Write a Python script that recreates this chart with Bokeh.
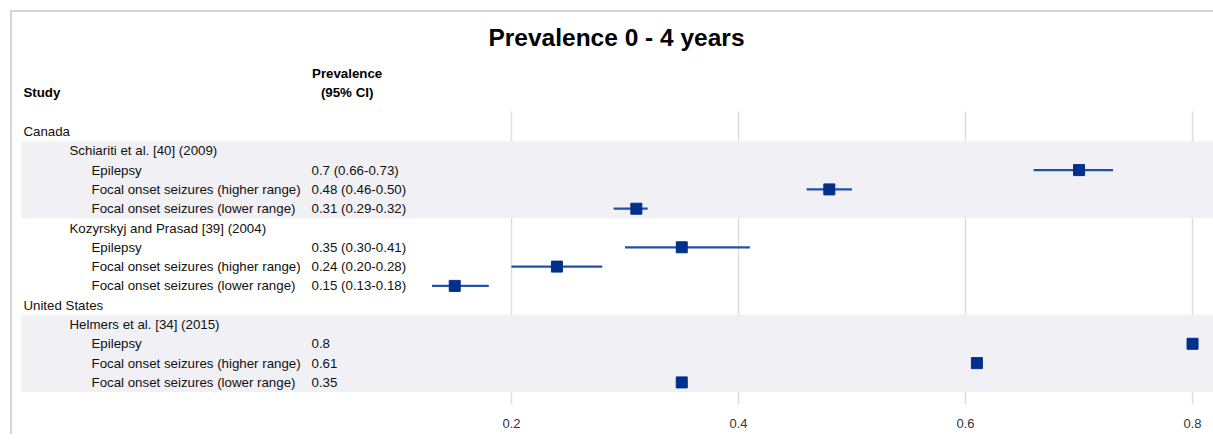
from bokeh.plotting import figure
from bokeh.models import Range1d, ColumnDataSource, FixedTicker
from bokeh.core.properties import value
from bokeh.embed import file_html
from bokeh.resources import INLINE

# ---------------- data ----------------
title_text = "Prevalence 0 - 4 years"
header_study = "Study"
header_prev = ["Prevalence", "(95% CI)"]

row_labels = [
    "Canada",
    "Schiariti et al. [40] (2009)",
    "Epilepsy",
    "Focal onset seizures (higher range)",
    "Focal onset seizures (lower range)",
    "Kozyrskyj and Prasad [39] (2004)",
    "Epilepsy",
    "Focal onset seizures (higher range)",
    "Focal onset seizures (lower range)",
    "United States",
    "Helmers et al. [34] (2015)",
    "Epilepsy",
    "Focal onset seizures (higher range)",
    "Focal onset seizures (lower range)",
]
row_levels = [0, 1, 2, 2, 2, 1, 2, 2, 2, 0, 1, 2, 2, 2]
estimates = [None, None, 0.70, 0.48, 0.31, None, 0.35, 0.24, 0.15, None, None, 0.80, 0.61, 0.35]
ci_lower = [None, None, 0.66, 0.46, 0.29, None, 0.30, 0.20, 0.13, None, None, None, None, None]
ci_upper = [None, None, 0.73, 0.50, 0.32, None, 0.41, 0.28, 0.18, None, None, None, None, None]
prev_text = ["", "", "0.7 (0.66-0.73)", "0.48 (0.46-0.50)", "0.31 (0.29-0.32)",
             "", "0.35 (0.30-0.41)", "0.24 (0.20-0.28)", "0.15 (0.13-0.18)",
             "", "", "0.8", "0.61", "0.35"]
shaded_first_rows = [1, 10]
shaded_row_count = [4, 4]
x_ticks = [0.2, 0.4, 0.6, 0.8]

# ---------------- layout constants ----------------
FONT = "Liberation Sans"
x_start, x_end = -0.2396, 0.8211
y_bottom, y_top = 14.145, -6.166
level_x = {0: -0.2300, 1: -0.1894, 2: -0.1700}
prev_x = 0.0238
band_left = -0.2317
grid_top = -1.04
title_x, title_y = 0.2925, -4.87
header_x = 0.0552

rows = list(range(len(row_labels)))

p = figure(width=1204, height=424, output_backend="svg", toolbar_location=None,
           x_range=Range1d(x_start, x_end), y_range=Range1d(y_bottom, y_top),
           y_axis_location=None, min_border_left=0, min_border_right=0,
           min_border_top=0, min_border_bottom=32)
p.styles = {"border-top": "2px solid #d4d4d4", "border-left": "2px solid #d4d4d4",
            "margin-left": "10px", "margin-top": "10px"}
p.outline_line_color = None
p.grid.visible = False
p.background_fill_color = "white"
p.border_fill_color = "white"

# grid lines (behind bands)
p.segment(x0=x_ticks, y0=[grid_top] * len(x_ticks), x1=x_ticks, y1=[y_bottom] * len(x_ticks),
          line_color="#dedede", line_width=1.5)

# shaded bands
p.quad(left=[band_left] * len(shaded_first_rows), right=[x_end] * len(shaded_first_rows),
       top=[r - 0.5 for r in shaded_first_rows],
       bottom=[r + c - 0.5 for r, c in zip(shaded_first_rows, shaded_row_count)],
       fill_color="#f0f0f5", line_color=None)

# title and headers
p.text(x=[title_x], y=[title_y], text=[title_text],
       text_font=value(FONT), text_font_size="24.5px", text_font_style="bold",
       text_align="center", text_baseline="middle", text_color="black")
p.text(x=[level_x[0]], y=[-2.02], text=[header_study], text_font=value(FONT),
       text_font_size="13.3px", text_font_style="bold", text_baseline="middle",
       text_color="black")
p.text(x=[header_x, header_x], y=[-3.0, -2.02], text=header_prev, text_font=value(FONT),
       text_font_size="13.3px", text_font_style="bold", text_align="center",
       text_baseline="middle", text_color="black")

# row labels
lab_src = ColumnDataSource(dict(x=[level_x[l] for l in row_levels], y=rows, t=row_labels))
p.text(x="x", y="y", text="t", source=lab_src, text_font=value(FONT),
       text_font_size="13.3px", text_baseline="middle", text_color="#111111")
prev_src = ColumnDataSource(dict(x=[prev_x] * len(rows), y=rows, t=prev_text))
p.text(x="x", y="y", text="t", source=prev_src, text_font=value(FONT),
       text_font_size="13.3px", text_baseline="middle", text_color="#111111")

# CI lines
ci_rows = [r for r in rows if ci_lower[r] is not None]
p.segment(x0=[ci_lower[r] for r in ci_rows], y0=ci_rows,
          x1=[ci_upper[r] for r in ci_rows], y1=ci_rows,
          line_color="#2350a8", line_width=2.2)

# point estimates
est_rows = [r for r in rows if estimates[r] is not None]
p.scatter(x=[estimates[r] for r in est_rows], y=est_rows, marker="square", size=11,
          fill_color="#00308c", line_color="#00308c")

# axis
ax = p.xaxis[0]
ax.ticker = FixedTicker(ticks=x_ticks)
ax.axis_line_color = None
ax.major_tick_line_color = None
ax.minor_tick_line_color = None
ax.major_tick_out = 0
ax.major_label_standoff = 14
ax.major_label_text_font = FONT
ax.major_label_text_font_size = "13px"
ax.major_label_text_color = "#333333"

open("out.html", "w").write(file_html(p, INLINE))
